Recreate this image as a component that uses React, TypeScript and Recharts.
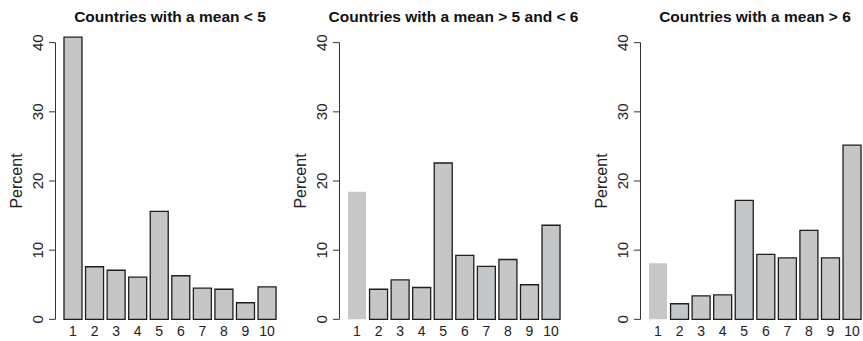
import React from 'react';
import { BarChart, Bar, XAxis, YAxis, Cell, ReferenceLine, Label } from 'recharts';

const categories = ['1', '2', '3', '4', '5', '6', '7', '8', '9', '10'];
const meanBelow5 = [40.8, 7.6, 7.1, 6.1, 15.6, 6.3, 4.5, 4.35, 2.4, 4.7];
const meanBetween5And6 = [18.45, 4.35, 5.7, 4.6, 22.6, 9.25, 7.65, 8.65, 5.0, 13.6];
const meanAbove6 = [8.1, 2.25, 3.4, 3.55, 17.2, 9.4, 8.9, 12.85, 8.9, 25.2];
const titles = [
  'Countries with a mean < 5',
  'Countries with a mean > 5 and < 6',
  'Countries with a mean > 6',
];
const yTicks = [0, 10, 20, 30, 40];
const yDomain = [-1.6, 41.6];
const yLabel = 'Percent';

const FONT = "'Liberation Sans', Arial, Helvetica, sans-serif";
const BAR_FILL = '#c5c6c8';
const PLAIN_FILL = '#c7c7c7';
const INK = '#1e1e1e';
const AXIS = '#333333';

const CHART_W = 300;
const CHART_H = 341;
const Y_AXIS_W = 55.5;
const PLOT_W = 229;

const XTick = (props: any) => {
  const { x, y, payload } = props;
  return (
    <text x={x} y={y} dy={6} textAnchor="middle" fontFamily={FONT} fontSize={14} fill="#222">
      {payload.value}
    </text>
  );
};

const YTick = (props: any) => {
  const { x, y, payload } = props;
  return (
    <text
      transform={`translate(${x - 5.7},${y}) rotate(-90)`}
      textAnchor="middle"
      fontFamily={FONT}
      fontSize={15}
      fill="#222"
    >
      {payload.value}
    </text>
  );
};

const PercentLabel = (props: any) => {
  const vb = props.viewBox || { x: 0, y: 0, width: 0, height: 0 };
  return (
    <text
      transform={`translate(${vb.x + 22},${vb.y + vb.height / 2}) rotate(-90)`}
      textAnchor="middle"
      fontFamily={FONT}
      fontSize={16}
      fill="#222"
    >
      {yLabel}
    </text>
  );
};

type PanelProps = { values: number[]; plainFirst: boolean; left: number };

function Panel({ values, plainFirst, left }: PanelProps) {
  const data = categories.map((c, i) => ({ cat: c, pct: values[i] }));
  return (
    <div style={{ position: 'absolute', left, top: 0 }}>
      <BarChart
        width={CHART_W}
        height={CHART_H}
        data={data}
        margin={{ top: 31.6, right: CHART_W - Y_AXIS_W - PLOT_W, bottom: 0, left: 0 }}
        barCategoryGap="8.33%"
      >
        <XAxis
          dataKey="cat"
          type="category"
          axisLine={false}
          tickLine={false}
          tickSize={0}
          tickMargin={0}
          height={10.6}
          padding={{ left: 6.7, right: 6.7 }}
          tick={<XTick />}
          interval={0}
        />
        <XAxis xAxisId="n" type="number" domain={[0, 1]} hide />
        <YAxis
          domain={yDomain}
          ticks={yTicks}
          width={Y_AXIS_W}
          axisLine={false}
          tickLine={{ stroke: AXIS, strokeWidth: 1 }}
          tickSize={6.5}
          tickMargin={0}
          tick={<YTick />}
          interval={0}
        >
          <Label content={PercentLabel} />
        </YAxis>
        <ReferenceLine
          xAxisId="n"
          segment={[{ x: 0, y: yTicks[0] }, { x: 0, y: yTicks[yTicks.length - 1] }]}
          stroke={AXIS}
          strokeWidth={1}
        />
        <Bar dataKey="pct" isAnimationActive={false}>
          {data.map((d, i) => {
            const plain = plainFirst && i === 0;
            return (
              <Cell
                key={d.cat}
                fill={plain ? PLAIN_FILL : BAR_FILL}
                stroke={plain ? 'none' : INK}
                strokeWidth={plain ? 0 : 1.3}
              />
            );
          })}
        </Bar>
      </BarChart>
    </div>
  );
}

const panelLefts = [0, 283.5, 585];
const panelValues = [meanBelow5, meanBetween5And6, meanAbove6];
const panelPlainFirst = [false, true, true];

export default function App() {
  return (
    <div
      style={{
        position: 'absolute',
        left: 0,
        top: 0,
        width: 863,
        height: 341,
        overflow: 'hidden',
        background: '#ffffff',
      }}
    >
      {panelValues.map((vals, i) => (
        <Panel key={i} values={vals} plainFirst={panelPlainFirst[i]} left={panelLefts[i]} />
      ))}
      <svg
        width={863}
        height={341}
        style={{ position: 'absolute', left: 0, top: 0, pointerEvents: 'none' }}
      >
        {titles.map((t, i) => (
          <text
            key={t}
            x={panelLefts[i] + Y_AXIS_W + PLOT_W / 2}
            y={22.3}
            textAnchor="middle"
            fontFamily={FONT}
            fontSize={15.5}
            fontWeight="bold"
            fill="#111"
          >
            {t}
          </text>
        ))}
      </svg>
    </div>
  );
}
